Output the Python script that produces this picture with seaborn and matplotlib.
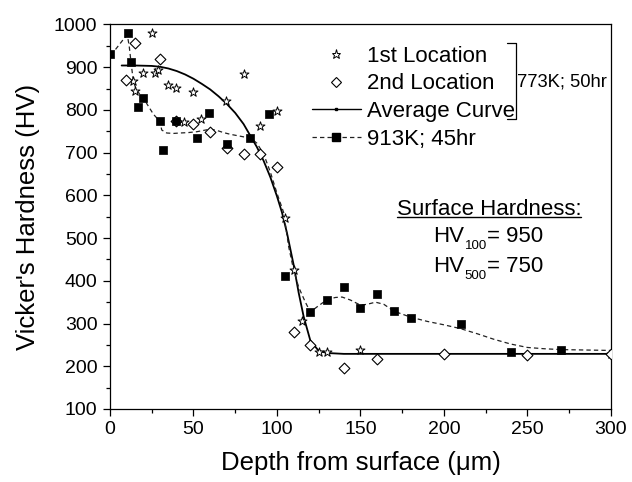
import matplotlib
matplotlib.use("Agg")
import matplotlib.pyplot as plt
import matplotlib.transforms as mtransforms
import seaborn as sns
from matplotlib.lines import Line2D

# 773K; 50hr, 1st location (depth in um, hardness HV)
loc1_depth = [25, 20, 27, 29, 13.5, 15, 34.5, 39.5, 49.5, 44.5, 54.5, 69.5, 80,
              90, 100, 105, 110, 115, 125, 130, 150, 300]
loc1_hv = [979, 887, 887, 894, 867, 845, 859, 851, 843, 771, 779, 820, 885,
           763, 797, 546, 425, 307, 233, 233, 237, 228]

# 773K; 50hr, 2nd location
loc2_depth = [15, 30, 9.5, 39.5, 49.5, 60, 70, 80, 90, 100, 110, 119.5, 140,
              160, 200, 250, 300]
loc2_hv = [957, 919, 871, 773, 767, 748, 712, 696, 696, 667, 281, 249, 195,
           217, 229, 227, 229]

# 773K; 50hr, average curve
avg_depth = [7, 15, 25, 30, 35, 40, 45, 50, 55, 60, 65, 70, 75, 80, 84, 88, 92,
             96, 100, 103, 106, 110, 113, 116, 120, 125, 130, 140, 160, 200,
             250, 300]
avg_hv = [904, 904, 903, 901, 897, 891, 883, 873, 861, 848, 832, 814, 793, 767,
          740, 713, 681, 643, 598, 560, 512, 437, 372, 316, 260, 236, 231, 229,
          229, 229, 229, 229]

# 913K; 45hr measurements
hot_depth = [0, 10.5, 12.5, 17, 20, 30, 31.5, 39.5, 52, 59.5, 70, 84, 95, 105,
             120, 130, 140, 150, 160, 170, 180, 210, 240, 270]
hot_hv = [930, 979, 912, 806, 829, 773, 706, 773, 735, 792, 721, 735, 790, 411,
          327, 356, 386, 337, 368, 329, 312, 298, 233, 239]

# 913K; 45hr smoothed trend
trend_depth = [0, 3, 6, 8, 10.4, 11.5, 12.6, 14, 16, 19.9, 22, 26, 29.9, 31, 34,
               38, 42, 47, 52, 56, 60, 64, 68, 72, 76, 80, 84, 88, 92, 96, 100,
               104, 107, 110, 113, 117, 120, 124, 130, 135, 139, 144, 150, 154,
               159, 164, 170, 175, 180, 190, 200, 210, 220, 230, 240, 250, 260,
               270, 285, 300]
trend_hv = [930, 940, 955, 965, 975, 950, 912, 867, 845, 829, 815, 790, 773,
            753, 746, 745, 746, 747, 749, 752, 755, 752, 747, 743, 740, 737,
            735, 722, 697, 655, 605, 560, 480, 425, 385, 350, 327, 339, 356,
            361, 362, 355, 343, 345, 350, 345, 329, 322, 315, 305, 297, 288,
            276, 263, 252, 244, 241, 239, 238, 237]

x_ticks = [0, 50, 100, 150, 200, 250, 300]
y_ticks = [100, 200, 300, 400, 500, 600, 700, 800, 900, 1000]

# surface hardness values (load subscript, value)
surface_loads = ["100", "500"]
surface_hv = [950, 750]

sns.set_style("ticks")
plt.rcParams["font.family"] = ["Liberation Sans", "DejaVu Sans"]
for key in ["text.color", "axes.labelcolor", "xtick.color", "ytick.color",
            "axes.edgecolor"]:
    plt.rcParams[key] = "black"

fig = plt.figure(figsize=(6.32, 4.82), dpi=100)
ax = fig.add_axes([0.174, 0.1515, 0.7927, 0.7977])

sns.lineplot(x=avg_depth, y=avg_hv, ax=ax, color="black", lw=1.3,
             estimator=None, sort=False, zorder=2)
sns.lineplot(x=trend_depth, y=trend_hv, ax=ax, color="#222222", lw=0.9,
             estimator=None, sort=False, linestyle=(0, (3.5, 2.5)), zorder=2)

sns.scatterplot(x=loc1_depth, y=loc1_hv, ax=ax, marker="*", s=46,
                color="white", edgecolor="black", linewidth=0.7, zorder=3)
sns.scatterplot(x=loc2_depth, y=loc2_hv, ax=ax, marker="D", s=30,
                color="white", edgecolor="black", linewidth=0.8, zorder=3)
sns.scatterplot(x=hot_depth, y=hot_hv, ax=ax, marker="s", s=34,
                color="black", edgecolor="black", linewidth=0.5, zorder=4)

ax.set_xlim(0, 300)
ax.set_ylim(100, 1000)
ax.set_xticks(x_ticks)
ax.set_yticks(y_ticks)
ax.set_xticks([25, 75, 125, 175, 225, 275], minor=True)
ax.set_yticks([150, 250, 350, 450, 550, 650, 750, 850, 950], minor=True)
ax.tick_params(axis="both", which="major", direction="out", length=5,
               width=0.9, labelsize=14, pad=4, color="black")
ax.tick_params(axis="both", which="minor", direction="out", length=3,
               width=0.9, color="black")
ax.tick_params(top=False, right=False, which="both")
for side in ["left", "right", "top", "bottom"]:
    ax.spines[side].set_visible(True)
    ax.spines[side].set_linewidth(0.9)
    ax.spines[side].set_color("black")

ax.set_xlabel("Depth from surface (\u03bcm)", fontsize=18.5, labelpad=9)
ax.set_ylabel("Vicker's Hardness (HV)", fontsize=18.5, labelpad=10)

handles = [
    Line2D([], [], ls="none", marker="*", ms=6.8, mfc="white", mec="black",
           mew=0.7),
    Line2D([], [], ls="none", marker="D", ms=5.5, mfc="white", mec="black",
           mew=0.8),
    Line2D([], [], ls="-", color="black", lw=1.0, marker="s", ms=2,
           mfc="black", mec="black"),
    Line2D([], [], ls=(0, (3.5, 2.5)), color="#222222", lw=0.9, marker="s",
           ms=6, mfc="black", mec="black"),
]
labels = ["1st Location", "2nd Location", "Average Curve", "913K; 45hr"]
ax.legend(handles, labels, loc="upper left", bbox_to_anchor=(0.4026, 0.945),
          frameon=False, fontsize=16, handlelength=2.2, handletextpad=0.3,
          borderpad=0, borderaxespad=0, labelspacing=0.3)

# bracket grouping the 773K; 50hr entries
ax.plot([0.7918, 0.8104, 0.8104, 0.7918], [0.951, 0.951, 0.7534, 0.7534],
        transform=ax.transAxes, color="black", lw=0.9, clip_on=False)
ax.text(0.812, 0.85, "773K; 50hr", transform=ax.transAxes, fontsize=13.2,
        ha="left", va="center")

title_txt = ax.text(0.5723, 0.5046, "Surface Hardness:", transform=ax.transAxes,
                    fontsize=16, ha="left", va="baseline")

# HV lines built from pieces so the load subscript sits small and low
fig.canvas.draw()
renderer = fig.canvas.get_renderer()
for load, value, base_y in zip(surface_loads, surface_hv, [0.435, 0.357]):
    hv = ax.text(0.6447, base_y, "HV", transform=ax.transAxes, fontsize=16,
                 ha="left", va="baseline")
    w_hv = hv.get_window_extent(renderer).width * 72 / fig.dpi
    sub_tr = mtransforms.offset_copy(ax.transAxes, fig=fig, x=w_hv + 0.5,
                                     y=-5.5, units="points")
    sub = ax.text(0.6447, base_y, load, transform=sub_tr, fontsize=9.5,
                  ha="left", va="baseline")
    w_sub = sub.get_window_extent(renderer).width * 72 / fig.dpi
    val_tr = mtransforms.offset_copy(ax.transAxes, fig=fig,
                                     x=w_hv + w_sub + 0.5, y=0, units="points")
    ax.text(0.6447, base_y, f"= {value}", transform=val_tr, fontsize=16,
            ha="left", va="baseline")

# underline the "Surface Hardness:" heading
bb = title_txt.get_window_extent(renderer).transformed(ax.transAxes.inverted())
ax.plot([bb.x0, bb.x1], [0.5046 - 0.006, 0.5046 - 0.006],
        transform=ax.transAxes, color="black", lw=1.0, clip_on=False)

fig.savefig("out.png", dpi=100)
